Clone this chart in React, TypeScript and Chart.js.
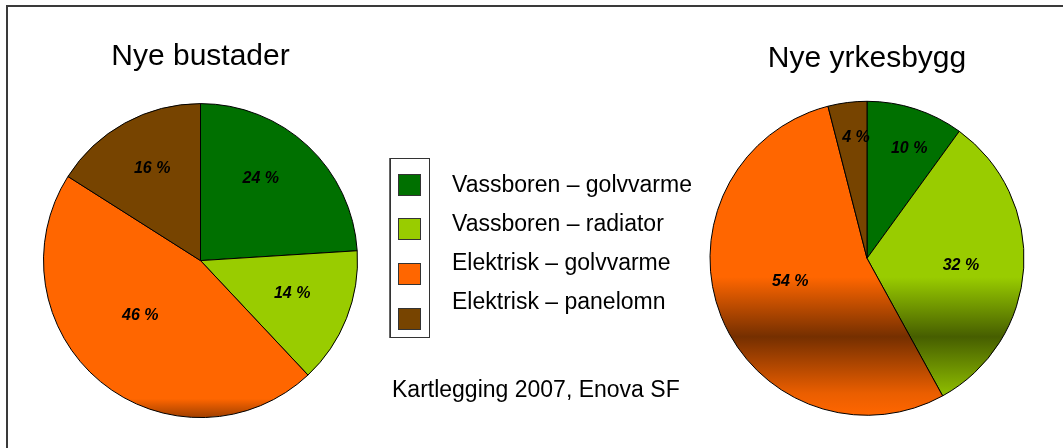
import React, { useEffect, useRef } from "react";
import { Chart, registerables } from "chart.js";

Chart.register(...registerables);

// ---------- data ----------
const categories = [
  "Vassboren – golvvarme",
  "Vassboren – radiator",
  "Elektrisk – golvvarme",
  "Elektrisk – panelomn",
];
const bustaderValues = [24, 14, 46, 16];
const yrkesbyggValues = [10, 32, 54, 4];
const pieTitles = ["Nye bustader", "Nye yrkesbygg"];
const sourceText = "Kartlegging 2007, Enova SF";

// ---------- styles ----------
const sliceColors = ["#007000", "#99cc00", "#ff6600", "#774400"];
const FONT = "'Liberation Sans', Arial, Helvetica, sans-serif";
const PIE_RADIUS = 157;
// vertical shading: [position 0..1 from top to bottom of pie, darkness 0..1]
const bustaderShade: [number, number][] = [[0, 0], [0.94, 0], [1, 0.7]];
const yrkesbyggShade: [number, number][] = [[0, 0], [0.56, 0], [0.75, 1], [0.93, 0.15], [1, 0]];
// label placement relative to slice mid-angle
const bustaderLabelNudge = [-7, -2, 8, 1];
const bustaderLabelRadius = [0.65, 0.62, 0.52, 0.66];
const yrkesbyggLabelNudge = [3, 1, 5, 2];
const yrkesbyggLabelRadius = [0.75, 0.6, 0.51, 0.77];

function shade(hex: string, t: number) {
  const n = parseInt(hex.slice(1), 16);
  const f = 1 - t * 0.54;
  const r = Math.round(((n >> 16) & 255) * f);
  const g = Math.round(((n >> 8) & 255) * f);
  const b = Math.round((n & 255) * f);
  return `rgb(${r},${g},${b})`;
}

type PieProps = {
  values: number[];
  title: string;
  stops: [number, number][];
  nudge: number[];
  radii: number[];
  left: number;
  width: number;
  titlePadTop: number;
  padBottom: number;
};

function PieChart(p: PieProps) {
  const ref = useRef<HTMLCanvasElement | null>(null);
  useEffect(() => {
    if (!ref.current) return;
    const labelPlugin = {
      id: "pctLabels",
      afterDatasetsDraw(chart: any) {
        const meta = chart.getDatasetMeta(0);
        const c = chart.ctx;
        c.save();
        c.font = `italic bold 16px ${FONT}`;
        c.fillStyle = "#000";
        c.textAlign = "center";
        c.textBaseline = "middle";
        meta.data.forEach((arc: any, i: number) => {
          const { x, y, startAngle, endAngle, outerRadius } = arc.getProps(
            ["x", "y", "startAngle", "endAngle", "outerRadius"],
            true
          );
          const mid = (startAngle + endAngle) / 2 + (p.nudge[i] * Math.PI) / 180;
          const r = outerRadius * p.radii[i];
          c.fillText(`${p.values[i]} %`, x + Math.cos(mid) * r, y + Math.sin(mid) * r);
        });
        c.restore();
      },
    };
    const chart = new Chart(ref.current, {
      type: "pie",
      data: {
        labels: categories,
        datasets: [
          {
            data: p.values,
            radius: PIE_RADIUS,
            borderColor: "#000",
            borderWidth: 1,
            backgroundColor: (ctx: any) => {
              const base = sliceColors[ctx.dataIndex];
              const chartRef = ctx.chart;
              const area = chartRef.chartArea;
              if (!area) return base;
              const cy = (area.top + area.bottom) / 2;
              const g = chartRef.ctx.createLinearGradient(0, cy - PIE_RADIUS, 0, cy + PIE_RADIUS);
              p.stops.forEach(([pos, t]) => g.addColorStop(pos, shade(base, t)));
              return g;
            },
          } as any,
        ],
      },
      options: {
        responsive: false,
        animation: false,
        devicePixelRatio: 1,
        events: [],
        layout: { padding: { top: 0, bottom: p.padBottom, left: 0, right: 0 } },
        plugins: {
          legend: { display: false },
          tooltip: { enabled: false },
          title: {
            display: true,
            text: p.title,
            color: "#000",
            font: { family: FONT, size: 30, weight: "normal" as any, lineHeight: 1.2 },
            padding: { top: p.titlePadTop, bottom: 6 },
          },
        },
      },
      plugins: [labelPlugin],
    });
    return () => chart.destroy();
  }, []);
  return (
    <canvas
      ref={ref}
      width={p.width}
      height={448}
      style={{ position: "absolute", left: p.left, top: 0, width: p.width, height: 448 }}
    />
  );
}

const legendSwatchTops = [174, 218, 263, 308];
const legendTextTops = [173, 212, 251, 290];

export default function App() {
  return (
    <div
      style={{
        position: "fixed",
        left: 0,
        top: 0,
        width: 1063,
        height: 448,
        background: "#fff",
        overflow: "hidden",
        fontFamily: FONT,
      }}
    >
      <div
        style={{
          position: "absolute",
          left: 6,
          top: 5,
          right: -10,
          bottom: -10,
          borderTop: "2px solid #3a3a3a",
          borderLeft: "2px solid #3a3a3a",
        }}
      />
      <PieChart
        values={bustaderValues}
        title={pieTitles[0]}
        stops={bustaderShade}
        nudge={bustaderLabelNudge}
        radii={bustaderLabelRadius}
        left={0}
        width={401}
        titlePadTop={39}
        padBottom={7.8}
      />
      <PieChart
        values={yrkesbyggValues}
        title={pieTitles[1]}
        stops={yrkesbyggShade}
        nudge={yrkesbyggLabelNudge}
        radii={yrkesbyggLabelRadius}
        left={672}
        width={390}
        titlePadTop={41}
        padBottom={14.4}
      />
      <div
        style={{
          position: "absolute",
          left: 390,
          top: 158,
          width: 38,
          height: 178,
          border: "1px solid #333",
          boxShadow: "-1px 0 0 #666",
        }}
      />
      {categories.map((c, i) => (
        <React.Fragment key={c}>
          <div
            style={{
              position: "absolute",
              left: 398,
              top: legendSwatchTops[i],
              width: 21,
              height: 20,
              background: sliceColors[i],
              border: "1px solid #333",
            }}
          />
          <div
            style={{
              position: "absolute",
              left: 452,
              top: legendTextTops[i],
              fontSize: 23,
              lineHeight: "23px",
              color: "#000",
              whiteSpace: "nowrap",
            }}
          >
            {c}
          </div>
        </React.Fragment>
      ))}
      <div
        style={{
          position: "absolute",
          left: 392,
          top: 378,
          fontSize: 23,
          lineHeight: "23px",
          color: "#000",
          whiteSpace: "nowrap",
        }}
      >
        {sourceText}
      </div>
    </div>
  );
}
